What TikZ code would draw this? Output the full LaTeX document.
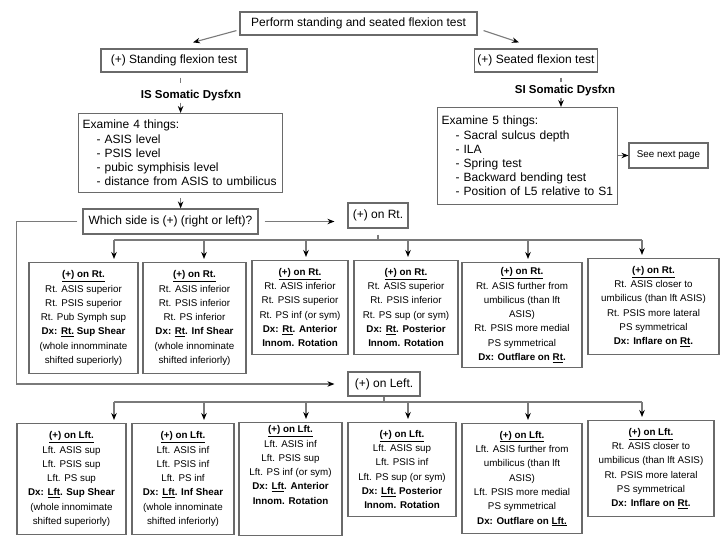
\documentclass[tikz,border=0pt]{standalone}
\usepackage{fontspec}
\setmainfont{Liberation Sans}
\usetikzlibrary{arrows.meta}
\definecolor{boxgray}{HTML}{6A6A6A}
\definecolor{linegray}{HTML}{7A7A7A}

\begin{document}
\begin{tikzpicture}[x=1pt, y=-1pt,
    box/.style ={draw=boxgray, line width=1.2pt, inner sep=3pt, font=\fontsize{12}{14.2}\selectfont},
    listbox/.style ={box, align=left, anchor=north west, inner xsep=4pt, inner ysep=6pt},
    diagbox/.style 2 args ={box, align=center, anchor=north, minimum width=#1, minimum height=#2,
                            font=\fontsize{9.8}{14.3}\selectfont},
    dysfxn/.style ={font=\bfseries\fontsize{11.5}{13}\selectfont, inner sep=1pt},
    link/.style ={draw=linegray, line width=1.1pt},
    arr/.style ={link, -{Stealth[length=7pt, width=5.5pt, color=black]}}]
   \useasboundingbox (0,0) rectangle (720,540);

   \node[box, minimum width=237pt, minimum height=23pt] (A) at (358.5,23.5) {Perform standing and seated flexion test};
   \node[box, minimum width=146pt, minimum height=23pt] (B) at (174,60.5) {(+) Standing flexion test};
   \node[box, minimum width=122pt, minimum height=23pt] (C) at (536,60.5) {(+) Seated flexion test};
   \node[dysfxn] (D) at (191,96) {IS Somatic Dysfxn};
   \node[dysfxn] (E) at (565,91) {SI Somatic Dysfxn};
   \node[listbox, text width=196pt, minimum height=79pt] (F) at (78,113)
        {Examine 4 things:\\
         \hspace*{14pt}- ASIS level\\
         \hspace*{14pt}- PSIS level\\
         \hspace*{14pt}- pubic symphisis level\\
         \hspace*{14pt}- distance from ASIS to umbilicus};
   \node[listbox, text width=172pt, minimum height=97pt] (K) at (437,107)
        {Examine 5 things:\\
         \hspace*{14pt}- Sacral sulcus depth\\
         \hspace*{14pt}- ILA\\
         \hspace*{14pt}- Spring test\\
         \hspace*{14pt}- Backward bending test\\
         \hspace*{14pt}- Position of L5 relative to S1};
   \node[box, minimum width=79pt, minimum height=25pt, font=\fontsize{9.8}{12}\selectfont] (G) at (668.5,155.5) {See next page};
   \node[box, minimum width=175pt, minimum height=25pt] (H) at (170.5,221.5) {Which side is (+) (right or left)?};
   \node[box, minimum width=60pt, minimum height=25pt] (I) at (378,215.5) {(+) on Rt.};
   \node[box, minimum width=72pt, minimum height=24pt] (J) at (384,384) {(+) on Left.};

   % right side positive
   \node[diagbox={109pt}{111pt}] (R1) at (83.5,262)
        {\underline{\textbf{(+) on Rt.}}\\Rt. ASIS superior\\Rt. PSIS superior\\Rt. Pub Symph sup\\
         \textbf{Dx: \underline{Rt.} Sup Shear}\\(whole innomminate\\shifted superiorly)};
   \node[diagbox={103pt}{111pt}] (R2) at (194.5,262)
        {\underline{\textbf{(+) on Rt.}}\\Rt. ASIS inferior\\Rt. PSIS inferior\\Rt. PS inferior\\
         \textbf{Dx: \underline{Rt}. Inf Shear}\\(whole innominate\\shifted inferiorly)};
   \node[diagbox={96pt}{94pt}] (R3) at (300,260)
        {\underline{\textbf{(+) on Rt.}}\\Rt. ASIS inferior\\Rt. PSIS superior\\Rt. PS inf (or sym)\\
         \textbf{Dx: \underline{Rt}. Anterior}\\\textbf{Innom. Rotation}};
   \node[diagbox={104pt}{94pt}] (R4) at (406,260)
        {\underline{\textbf{(+) on Rt.}}\\Rt. ASIS superior\\Rt. PSIS inferior\\Rt. PS sup (or sym)\\
         \textbf{Dx: \underline{Rt}. Posterior}\\\textbf{Innom. Rotation}};
   \node[diagbox={120pt}{105pt}] (R5) at (522,262)
        {\underline{\textbf{(+) on Rt.}}\\Rt. ASIS further from\\umbilicus (than lft\\ASIS)\\
         Rt. PSIS more medial\\PS symmetrical\\\textbf{Dx: Outflare on \underline{Rt}.}};
   \node[diagbox={131pt}{96pt}] (R6) at (653.5,258)
        {\underline{\textbf{(+) on Rt.}}\\Rt. ASIS closer to\\umbilicus (than lft ASIS)\\
         Rt. PSIS more lateral\\PS symmetrical\\\textbf{Dx: Inflare on \underline{Rt}.}};

   % left side positive
   \node[diagbox={109pt}{111pt}] (L1) at (71.5,423)
        {\underline{\textbf{(+) on Lft.}}\\Lft. ASIS sup\\Lft. PSIS sup\\Lft. PS sup\\
         \textbf{Dx: \underline{Lft}. Sup Shear}\\(whole innomimate\\shifted superiorly)};
   \node[diagbox={102pt}{111pt}] (L2) at (183,423)
        {\underline{\textbf{(+) on Lft.}}\\Lft. ASIS inf\\Lft. PSIS inf\\Lft. PS inf\\
         \textbf{Dx: \underline{Lft}. Inf Shear}\\(whole innominate\\shifted inferiorly)};
   \node[diagbox={103pt}{111pt}] (L3) at (290.5,422)
        {\underline{\textbf{(+) on Lft.}}\\Lft. ASIS inf\\Lft. PSIS sup\\Lft. PS inf (or sym)\\
         \textbf{Dx: \underline{Lft}. Anterior}\\\textbf{Innom. Rotation}\\[14pt]};
   \node[diagbox={108pt}{94pt}] (L4) at (402,422)
        {\underline{\textbf{(+) on Lft.}}\\Lft. ASIS sup\\Lft. PSIS inf\\Lft. PS sup (or sym)\\
         \textbf{Dx: \underline{Lft.} Posterior}\\\textbf{Innom. Rotation}};
   \node[diagbox={120pt}{110pt}] (L5) at (522,423)
        {\underline{\textbf{(+) on Lft.}}\\Lft. ASIS further from\\umbilicus (than lft\\ASIS)\\
         Lft. PSIS more medial\\PS symmetrical\\\textbf{Dx: Outflare on \underline{Lft.}}};
   \node[diagbox={126pt}{96pt}] (L6) at (651,420)
        {\underline{\textbf{(+) on Lft.}}\\Rt. ASIS closer to\\umbilicus (than lft ASIS)\\
         Rt. PSIS more lateral\\PS symmetrical\\\textbf{Dx: Inflare on \underline{Rt}.}};

   \foreach \n/\x in {1/114,2/204,3/306,4/408,5/528,6/642} {
     \coordinate (b\n) at (\x,240);
     \coordinate (c\n) at (\x,402);
   }

   \draw[arr] ([xshift=-3pt,yshift=5pt]A.south west) to ([xshift=19pt,yshift=6pt]B.north);
   \draw[arr] ([xshift=6pt,yshift=5pt]A.south east) to ([xshift=-17pt,yshift=6pt]C.north);
   \draw[link, shorten <=5pt, shorten >=6pt] (B.south -| F.north) to (D.north -| F.north);
   \draw[arr] (D.south -| F.north) to (F.north);
   \draw[link, shorten <=5pt, shorten >=2pt] ([xshift=25pt]C.south) to ([xshift=-4pt]E.north);
   \draw[arr] ([xshift=-4pt]E.south) to ([xshift=-4pt]E.south |- K.north);
   \draw[arr] (K.east |- G.west) to (G.west);
   \draw[arr, shorten <=5pt] (F.south) to (F.south |- H.north);
   \draw[arr, shorten <=6pt, shorten >=13pt] (H.east) to (H.east -| I.west);
   \draw[arr, shorten >=13pt] ([xshift=-5pt]H.west) -- ++(-61,0) |- (J.west);

   \draw[link, shorten <=6pt] (I.south) to (I.south |- b1);
   \draw[link] (b1) to (b6);
   \draw[link] (J.south) to (J.south |- c1);
   \draw[link] (c1) to (c6);
   \foreach \n in {1,...,6} {
     \draw[arr, shorten >=3pt] (b\n) to (b\n |- R\n.north);
     \draw[arr, shorten >=3pt] (c\n) to (c\n |- L\n.north);
   }
 \end{tikzpicture}
\end{document}
